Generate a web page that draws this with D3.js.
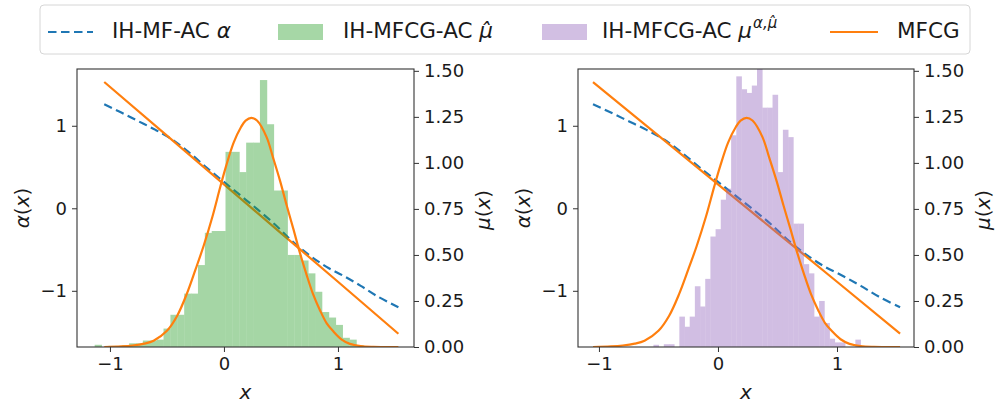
<!DOCTYPE html>
<html><head><meta charset="utf-8">
<script src="https://cdn.jsdelivr.net/npm/d3@7"></script>
<style>
body{margin:0;background:#fff}
svg{display:block}
text{font-family:"DejaVu Sans",sans-serif;fill:#1a1a1a}
</style></head>
<body><svg id="c" width="998" height="408"></svg>
<script>
// ---------- data ----------
const xTicks = [-1, 0, 1];
const alphaTicks = [-1, 0, 1];
const muTicks = [0, 0.25, 0.5, 0.75, 1.0, 1.25, 1.5];

// IH-MF-AC alpha (dashed blue)
const alphaX  = [-1.05, -0.9, -0.75, -0.6, -0.45, -0.3, -0.15, 0, 0.15, 0.3, 0.45, 0.6, 0.75, 0.9, 1.05, 1.2, 1.35, 1.53];
const alphaIH = [1.26, 1.16, 1.055, 0.95, 0.83, 0.67, 0.49, 0.32, 0.15, -0.02, -0.20, -0.40, -0.57, -0.71, -0.82, -0.94, -1.07, -1.20];

// MFCG alpha (orange straight line)
const mfcgAlphaX = [-1.05, -0.5, 0, 0.5, 1.0, 1.53];
const mfcgAlpha  = [1.53, 0.88, 0.29, -0.30, -0.89, -1.52];

// MFCG density (orange bell)
const mfcgMuX = [-1.05, -0.9, -0.8, -0.7, -0.617, -0.5, -0.41, -0.325, -0.25, -0.178, -0.1, -0.032, 0.02, 0.085, 0.15, 0.19, 0.24, 0.29, 0.374, 0.43, 0.491, 0.55, 0.608, 0.667, 0.725, 0.78, 0.842, 0.9, 0.959, 1.03, 1.105, 1.2, 1.31, 1.53];
const mfcgMu  = [0.0, 0.003, 0.008, 0.018, 0.034, 0.088, 0.17, 0.29, 0.42, 0.55, 0.71, 0.87, 0.985, 1.11, 1.195, 1.23, 1.245, 1.23, 1.14, 1.03, 0.905, 0.77, 0.643, 0.51, 0.392, 0.29, 0.2, 0.13, 0.085, 0.042, 0.017, 0.005, 0.001, 0.0];

// histogram of IH-MFCG-AC mu-hat (left, green)
const histLeftStart = -1.134, histLeftWidth = 0.0604;
const histLeft = [0.012, 0, 0.006, 0.006, 0.01, 0.02, 0.02, 0.035, 0.035, 0.04,
                  0.10, 0.175, 0.175, 0.29, 0.29, 0.445, 0.62, 0.63, 0.63, 1.06,
                  1.06, 0.95, 1.11, 1.11, 1.45, 1.21, 0.85, 0.85, 0.5, 0.5,
                  0.47, 0.4, 0.3, 0.19, 0.16, 0.12, 0.05, 0.04, 0.01, 0];

// histogram of IH-MFCG-AC mu^{alpha, mu-hat} (right, purple)
const histRightStart = -0.542, histRightWidth = 0.0435;
const histRight = [0.012, 0, 0.015, 0.015, 0, 0.165, 0.11, 0.165, 0.33, 0.22,
                   0.37, 0.60, 0.64, 0.80, 0.86, 1.15, 1.47, 1.40, 1.38, 1.42,
                   1.55, 1.30, 1.30, 1.37, 0.95, 1.18, 1.14, 0.67, 0.67, 0.45,
                   0.40, 0.165, 0.25, 0.13, 0.045, 0.025, 0.025, 0, 0, 0.04];

// ---------- drawing ----------
const svg = d3.select("#c");
const C = {blue:"#1f77b4", orange:"#ff7f0e", green:"#2ca02c", purple:"#9467bd"};
const yTop = 69, yBot = 347;
const intFmt = d3.format("d");

const panels = [
  {x0:77,  x1:414, xDom:[-1.289, 1.667], hist:histLeft,  start:histLeftStart,  w:histLeftWidth,  color:C.green},
  {x0:578, x1:914, xDom:[-1.176, 1.647], hist:histRight, start:histRightStart, w:histRightWidth, color:C.purple}
];

panels.forEach((p, i) => {
  const x = d3.scaleLinear().domain(p.xDom).range([p.x0, p.x1]);
  const ya = d3.scaleLinear().domain([-1.681, 1.688]).range([yBot, yTop]);
  const ym = d3.scaleLinear().domain([0, 1.51]).range([yBot, yTop]);
  const g = svg.append("g");
  const cid = "clip" + i;
  svg.append("clipPath").attr("id", cid).append("rect")
    .attr("x", p.x0).attr("y", yTop).attr("width", p.x1 - p.x0).attr("height", yBot - yTop);
  const plot = g.append("g").attr("clip-path", `url(#${cid})`);

  const smooth = d3.line().curve(d3.curveCatmullRom.alpha(0.5));
  plot.append("path")
    .attr("d", smooth(alphaX.map((v, k) => [x(v), ya(alphaIH[k])])))
    .attr("fill", "none").attr("stroke", C.blue).attr("stroke-width", 2.2)
    .attr("stroke-dasharray", "8.5,4.5");
  plot.append("path")
    .attr("d", d3.line()(mfcgAlphaX.map((v, k) => [x(v), ya(mfcgAlpha[k])])))
    .attr("fill", "none").attr("stroke", C.orange).attr("stroke-width", 2.2);
  plot.append("g").attr("opacity", 0.42)
    .selectAll("rect").data(p.hist).join("rect")
    .attr("x", (d, k) => x(p.start + k * p.w))
    .attr("width", (d, k) => x(p.start + (k + 1) * p.w) - x(p.start + k * p.w) + 0.4)
    .attr("y", d => ym(d))
    .attr("height", d => ym(0) - ym(d))
    .attr("fill", p.color);
  plot.append("path")
    .attr("d", smooth(mfcgMuX.map((v, k) => [x(v), ym(mfcgMu[k])])))
    .attr("fill", "none").attr("stroke", C.orange).attr("stroke-width", 2.2);

  const ax = g.append("g").attr("transform", `translate(0,${yBot})`)
    .call(d3.axisBottom(x).tickValues(xTicks).tickFormat(intFmt).tickSize(5).tickPadding(5));
  const aa = g.append("g").attr("transform", `translate(${p.x0},0)`)
    .call(d3.axisLeft(ya).tickValues(alphaTicks).tickFormat(intFmt).tickSize(5).tickPadding(5));
  const am = g.append("g").attr("transform", `translate(${p.x1},0)`)
    .call(d3.axisRight(ym).tickValues(muTicks).tickFormat(d3.format(".2f")).tickSize(5).tickPadding(5));
  [ax, aa, am].forEach(a => {
    a.select(".domain").remove();
    a.selectAll("line").attr("stroke", "#333").attr("stroke-width", 1);
    a.selectAll("text").attr("font-size", 18).attr("font-family", "DejaVu Sans").attr("fill", "#1a1a1a");
  });
  g.append("rect").attr("x", p.x0).attr("y", yTop).attr("width", p.x1 - p.x0).attr("height", yBot - yTop)
    .attr("fill", "none").attr("stroke", "#333").attr("stroke-width", 1.1);

  const cx = (p.x0 + p.x1) / 2;
  g.append("text").attr("x", cx).attr("y", 399).attr("text-anchor", "middle")
    .attr("font-size", 20).append("tspan").attr("font-style", "italic").text("x");
  const la = g.append("text").attr("transform", `translate(${p.x0 - 48},208) rotate(-90)`)
    .attr("text-anchor", "middle").attr("font-size", 20);
  la.append("tspan").attr("font-style", "italic").text("α");
  la.append("tspan").text("(");
  la.append("tspan").attr("font-style", "italic").text("x");
  la.append("tspan").text(")");
  const lm = g.append("text").attr("transform", `translate(${p.x1 + 76},210) rotate(-90)`)
    .attr("text-anchor", "middle").attr("font-size", 20);
  lm.append("tspan").attr("font-style", "italic").text("μ");
  lm.append("tspan").text("(");
  lm.append("tspan").attr("font-style", "italic").text("x");
  lm.append("tspan").text(")");
});

// ---------- legend ----------
const lg = svg.append("g");
lg.append("rect").attr("x", 40).attr("y", 5).attr("width", 930).attr("height", 49).attr("rx", 4)
  .attr("fill", "#fff").attr("fill-opacity", 0.8).attr("stroke", "#d6d6d6").attr("stroke-width", 1);
const ly = 32, fs = 21.5, base = 38;
lg.append("line").attr("x1", 48).attr("x2", 93).attr("y1", ly).attr("y2", ly)
  .attr("stroke", C.blue).attr("stroke-width", 2.2).attr("stroke-dasharray", "8.5,4.5");
const t1 = lg.append("text").attr("x", 112).attr("y", base).attr("font-size", fs);
t1.append("tspan").text("IH-MF-AC ");
t1.append("tspan").attr("font-style", "italic").text("α");

lg.append("rect").attr("x", 278).attr("y", 24).attr("width", 45).attr("height", 16)
  .attr("fill", C.green).attr("fill-opacity", 0.42);
const t2 = lg.append("text").attr("x", 343).attr("y", base).attr("font-size", fs);
t2.append("tspan").text("IH-MFCG-AC ");
t2.append("tspan").attr("font-style", "italic").text("μ\u0302");

lg.append("rect").attr("x", 542).attr("y", 24).attr("width", 45).attr("height", 16)
  .attr("fill", C.purple).attr("fill-opacity", 0.42);
const t3 = lg.append("text").attr("x", 602).attr("y", base).attr("font-size", fs);
t3.append("tspan").text("IH-MFCG-AC ");
t3.append("tspan").attr("font-style", "italic").text("μ");
t3.append("tspan").attr("font-style", "italic").attr("font-size", 15).attr("dy", -10).attr("dx", 1).text("α,μ\u0302");

lg.append("line").attr("x1", 830).attr("x2", 878).attr("y1", ly).attr("y2", ly)
  .attr("stroke", C.orange).attr("stroke-width", 2.2);
lg.append("text").attr("x", 897).attr("y", base).attr("font-size", fs).text("MFCG");
</script></body></html>
